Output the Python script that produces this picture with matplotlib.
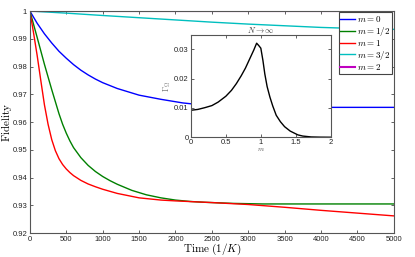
import numpy as np
import matplotlib
matplotlib.use("Agg")
import matplotlib.pyplot as plt

plt.rcParams['mathtext.fontset'] = 'cm'
plt.rcParams['font.family'] = ['Liberation Sans', 'DejaVu Sans']

# fidelity vs time, one series per m
t_blue = [0, 50, 100, 150, 200, 300, 400, 500, 600, 700, 800, 900, 1000, 1200, 1500, 1800, 2100, 2500,
          3000, 3500, 4000, 4500, 5000]
f_blue = [1.0, 0.9978, 0.9956, 0.9937, 0.9918, 0.9885, 0.9855, 0.9830, 0.9807, 0.9787, 0.9770, 0.9755,
          0.9742, 0.9721, 0.9697, 0.9682, 0.9669, 0.9658, 0.9654, 0.9653, 0.9653, 0.9653, 0.9653]

t_green = [0, 100, 200, 300, 400, 450, 500, 550, 600, 700, 800, 900, 1000, 1100, 1200, 1400, 1600, 1800,
           2000, 2200, 2400, 2800, 3200, 4000, 5000]
f_green = [1.0, 0.9905, 0.9808, 0.9717, 0.9630, 0.9592, 0.9560, 0.9532, 0.9508, 0.9472, 0.9444, 0.9422,
           0.9404, 0.9389, 0.9376, 0.9354, 0.9338, 0.9327, 0.9319, 0.9314, 0.9311, 0.9307, 0.9305,
           0.9305, 0.9305]

t_red = [0, 50, 100, 150, 200, 250, 300, 350, 400, 450, 500, 550, 600, 700, 800, 900, 1000, 1200, 1500,
         1800, 2000, 2500, 3000, 3500, 4000, 4500, 5000]
f_red = [1.0, 0.9922, 0.9840, 0.9750, 0.9662, 0.9592, 0.9537, 0.9497, 0.9468, 0.9447, 0.9431, 0.9418,
         0.9407, 0.9390, 0.9377, 0.9367, 0.9358, 0.9343, 0.9327, 0.9319, 0.9316, 0.9310, 0.9303, 0.9293,
         0.9282, 0.9272, 0.9262]

t_cyan = [0, 500, 1000, 1500, 2000, 2500, 3000, 3500, 4000, 4500, 5000]
f_cyan = [1.0, 0.99925, 0.9984, 0.9976, 0.9968, 0.9960, 0.9953, 0.9947, 0.9941, 0.9937, 0.9934]

t_mag = [0, 5000]
f_mag = [0.99998, 0.99998]

# inset: rate vs m for N -> infinity
m_vals = [0, 0.1, 0.2, 0.3, 0.39, 0.5, 0.58, 0.65, 0.72, 0.78, 0.84, 0.90, 0.94, 0.97, 1.0, 1.03,
          1.057, 1.09, 1.13, 1.17, 1.22, 1.28, 1.34, 1.42, 1.53, 1.6, 1.72, 1.85, 2.0]
g_vals = [0.0092, 0.0095, 0.0101, 0.0108, 0.0120, 0.0140, 0.0160, 0.0183, 0.0210, 0.0236, 0.0267,
          0.0298, 0.0321, 0.0313, 0.0304, 0.0262, 0.0216, 0.0173, 0.0137, 0.0107, 0.0075, 0.0053,
          0.0036, 0.0021, 0.0008, 0.0004, 0.0001, 0.00003, 0.0]

fig = plt.figure(figsize=(4.15, 2.57), dpi=100)
ax = fig.add_axes([0.072, 0.093, 0.877, 0.864])

ax.plot(t_blue, f_blue, color='#0000ff', lw=1.0, label=r'$m=0$')
ax.plot(t_green, f_green, color='#008000', lw=1.0, label=r'$m=1/2$')
ax.plot(t_red, f_red, color='#ff0000', lw=1.0, label=r'$m=1$')
ax.plot(t_cyan, f_cyan, color='#00bfbf', lw=1.0, label=r'$m=3/2$')
ax.plot(t_mag, f_mag, color='#bf00bf', lw=1.5, label=r'$m=2$')

ax.set_xlim(0, 5000)
ax.set_ylim(0.92, 1.0)
ax.set_xticks(np.arange(0, 5001, 500))
ax.set_yticks([0.92, 0.93, 0.94, 0.95, 0.96, 0.97, 0.98, 0.99, 1.0])
ax.set_yticklabels(['0.92', '0.93', '0.94', '0.95', '0.96', '0.97', '0.98', '0.99', '1'])
ax.tick_params(direction='in', length=2.5, width=0.5, labelsize=5.5, pad=2, colors='#222222',
               top=True, right=True)
for s in ax.spines.values():
    s.set_color('#555555')
    s.set_linewidth(0.8)
ax.set_xlabel(r'$\mathrm{Time}\ (1/K)$', fontsize=8, labelpad=-1)
ax.set_ylabel(r'$\mathrm{Fidelity}$', fontsize=8, labelpad=-1)

leg = ax.legend(loc='upper right', fontsize=6.5, labelspacing=0.05, handlelength=1.6,
                handletextpad=0.3, borderpad=0.2, borderaxespad=0.15, fancybox=False, framealpha=1)
leg.get_frame().set_edgecolor('#444444')
leg.get_frame().set_linewidth(0.8)

ins = fig.add_axes([0.460, 0.466, 0.337, 0.399])
ins.plot(m_vals, g_vals, color='black', lw=1.0)
ins.set_xlim(0, 2)
ins.set_ylim(0, 0.035)
ins.set_xticks([0, 0.5, 1, 1.5, 2])
ins.set_xticklabels(['0', '0.5', '1', '1.5', '2'])
ins.set_yticks([0, 0.01, 0.02, 0.03])
ins.set_yticklabels(['0', '0.01', '0.02', '0.03'])
ins.tick_params(direction='in', length=2, width=0.5, labelsize=5.5, pad=1.5, colors='#222222',
                top=True, right=True)
for s in ins.spines.values():
    s.set_color('#555555')
    s.set_linewidth(0.8)
ins.set_title(r'$N\to\infty$', fontsize=6, pad=1.5, color='#333333')
ins.set_xlabel(r'$m$', fontsize=5, labelpad=0, color='#555555')
ins.set_ylabel(r'$\Gamma_{\Omega}$', fontsize=6, labelpad=1, color='#777777')

fig.savefig('out.png', dpi=100)
